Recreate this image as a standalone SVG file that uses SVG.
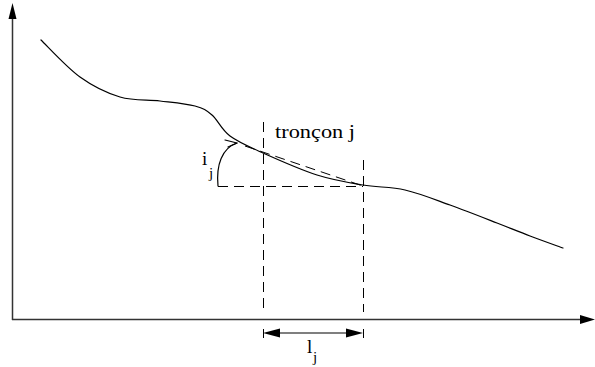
<svg xmlns="http://www.w3.org/2000/svg" width="595" height="367" viewBox="0 0 595 367">
<style>
.ax{stroke:#333;stroke-width:1.5;fill:none}
.dash{stroke:#000;stroke-width:1;fill:none;stroke-dasharray:10,6}
.ln{stroke:#000;stroke-width:1.2;fill:none;stroke-linejoin:round;stroke-linecap:round}
.t{font-family:"Liberation Serif",serif;fill:#000}
</style>
<rect width="595" height="367" fill="#fff"/>
<g id="axes">
<line class="ax" x1="12.5" y1="320" x2="12.5" y2="17"/>
<polygon points="12.5,3 8.5,19 16.5,19" fill="#000"/>
<line class="ax" x1="12" y1="319.5" x2="581" y2="319.5"/>
<polygon points="595,319.5 580,315 580,324" fill="#000"/>
</g>
<g id="curve">
<path class="ln" d="M41,40 C47.5,46.2 66.8,67.5 80,77 C93.2,86.5 106.7,93 120,97 C133.3,101 147.5,99.5 160,101 C172.5,102.5 186.3,103.7 195,106 C203.7,108.3 206.2,110 212,115 C217.8,120 221.5,129.7 230,136 C238.5,142.3 248.5,146.5 263,153 C277.5,159.5 300.3,169.7 317,175 C333.7,180.3 348.3,182.5 363,185 C377.7,187.5 390.5,186.7 405,190 C419.5,193.3 434.7,199.5 450,205 C465.3,210.5 483.7,217.8 497,223 C510.3,228.2 519,231.8 530,236 C541,240.2 557.5,246 563,248"/>
</g>
<g id="connectors">
<line class="dash" x1="263.5" y1="122" x2="263.5" y2="312"/>
<line class="dash" x1="363.5" y1="160" x2="363.5" y2="312"/>
<line class="dash" x1="218" y1="186.5" x2="363" y2="186.5"/>
<line class="dash" x1="245" y1="146" x2="363" y2="186"/>
<path class="ln" d="M218,186 C216,165 222,148 237,143"/>
<polyline class="ln" points="225,140 237,143 228,147"/>
<line x1="263.5" y1="329" x2="263.5" y2="338" stroke="#000" stroke-width="1"/>
<line x1="363.5" y1="329" x2="363.5" y2="338" stroke="#000" stroke-width="1"/>
<line x1="275" y1="333" x2="351" y2="333" stroke="#000" stroke-width="1.2"/>
<polygon points="263,333 280,328.5 280,337.5" fill="#000"/>
<polygon points="363,333 346,328.5 346,337.5" fill="#000"/>
</g>
<g id="labels">
<text class="t" x="275" y="138" font-size="19" textLength="80" lengthAdjust="spacingAndGlyphs">tronçon j</text>
<text class="t" x="202" y="165" font-size="19">i</text>
<text class="t" x="209" y="178" font-size="15">j</text>
<text class="t" x="307" y="353" font-size="19">l</text>
<text class="t" x="313" y="362" font-size="15">j</text>
</g>
</svg>
